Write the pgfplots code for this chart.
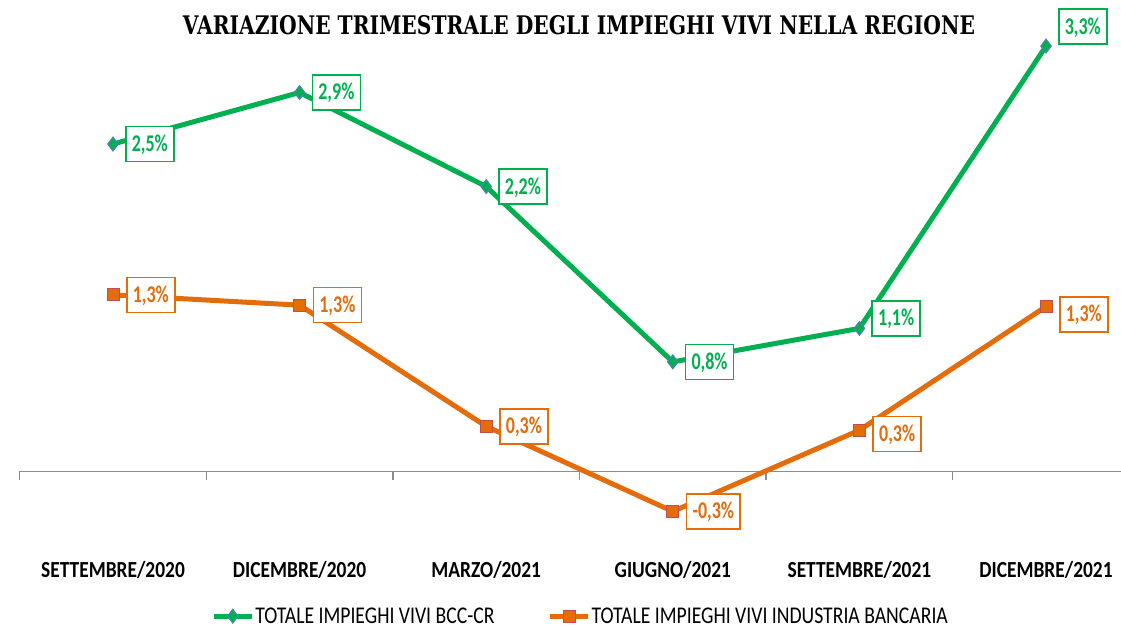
\documentclass[border=0pt]{standalone}
\usepackage{fontspec}
\usepackage{graphicx}
\usepackage{pgfplots}
\pgfplotsset{compat=1.18}
\usepackage{pgfplotstable}
\newfontfamily\labfont[FakeStretch=0.75]{Carlito}
\newfontfamily\tickfont[FakeStretch=0.845]{Carlito}
\newfontfamily\legfont[FakeStretch=0.82]{Carlito}
\newfontfamily\titlefont{DejaVu Serif}
\definecolor{cgreen}{HTML}{00B050}
\definecolor{corange}{HTML}{E46C0A}
\definecolor{cblue}{HTML}{4F81BD}
\definecolor{cred}{HTML}{C0504D}
\definecolor{cgray}{HTML}{8C8C8C}

\pgfplotstableread{
x y lab dy
0 2.54 {2,5\%} 0
1 2.94 {2,9\%} 0
2 2.21 {2,2\%} 0
3 0.85 {0,8\%} 0
4 1.11 {1,1\%} 10
5 3.30 {3,3\%} 19.5
}\greendata

\pgfplotstableread{
x y lab dy
0 1.37 {1,3\%} 0
1 1.29 {1,3\%} 0
2 0.35 {0,3\%} 0
3 -0.31 {-0,3\%} 0
4 0.32 {0,3\%} -4
5 1.28 {1,3\%} -8
}\orangedata

\begin{document}
\begin{tikzpicture}[x=1pt,y=1pt]
\useasboundingbox (0,0) rectangle (1121,629);
\clip (0,0) rectangle (1121,629);
\node at (579,604) {\resizebox{792pt}{19pt}{\titlefont\bfseries VARIAZIONE TRIMESTRALE DEGLI IMPIEGHI VIVI NELLA REGIONE}};
\begin{axis}[
  at={(19.7pt,80.2pt)}, anchor=south west,
  scale only axis, width=1119.6pt, height=528.5pt,
  xmin=-0.5, xmax=5.5, ymin=-0.6, ymax=3.5,
  axis x line*=middle, axis y line=none,
  axis line style={cgray, line width=1.5pt},
  xtick={-0.5,0.5,1.5,2.5,3.5,4.5,5.5}, xticklabels={},
  tick align=outside, major tick length=9pt,
  xtick style={cgray, line width=1.5pt},
  extra x ticks={0,1,2,3,4,5},
  extra x tick labels={SETTEMBRE/2020,DICEMBRE/2020,MARZO/2021,GIUGNO/2021,SETTEMBRE/2021,DICEMBRE/2021},
  extra x tick style={major tick length=0pt, tick label style={yshift=-86pt}},
  x tick label style={font=\tickfont\bfseries\fontsize{23}{27}\selectfont, text=black},
  clip=false,
  legend style={at={(0.5005,-0.1275)}, anchor=center, draw=none, fill=none,
    font=\legfont\fontsize{24}{26}\selectfont,
    /tikz/every even column/.append style={column sep=52pt},
    nodes={inner xsep=1pt, inner ysep=0pt}},
  legend columns=2,
  legend image code/.code={\draw[mark repeat=2,mark phase=2,#1] plot coordinates {(0pt,0pt) (19pt,0pt) (38pt,0pt)};},
  point meta=explicit symbolic,
  nodes near coords,
  visualization depends on={\thisrow{dy} \as \dy},
]
\addplot[color=cgreen, line width=5pt, mark=diamond*, mark size=7pt,
  mark options={draw=cblue, fill=cgreen, line width=1pt, solid},
  every node near coord/.append style={anchor=west, xshift=12pt, yshift=\dy pt,
    draw=cgreen, fill=white, line width=1.5pt, text=cgreen,
    font=\labfont\bfseries\fontsize{24}{28}\selectfont,
    inner xsep=6pt, inner ysep=0pt, text height=15pt, text depth=0pt, minimum height=35pt}]
  table[x=x, y=y, meta=lab] {\greendata};
\addlegendentry{TOTALE IMPIEGHI VIVI BCC-CR}
\addplot[color=corange, line width=5pt, mark=square*, mark size=6pt,
  mark options={draw=cred, fill=corange, line width=1pt, solid},
  every node near coord/.append style={anchor=west, xshift=13pt, yshift=\dy pt,
    draw=corange, fill=white, line width=1.5pt, text=corange,
    font=\labfont\bfseries\fontsize{24}{28}\selectfont,
    inner xsep=6pt, inner ysep=0pt, text height=15pt, text depth=0pt, minimum height=35pt}]
  table[x=x, y=y, meta=lab] {\orangedata};
\addlegendentry{TOTALE IMPIEGHI VIVI INDUSTRIA BANCARIA}
\end{axis}
\end{tikzpicture}
\end{document}
